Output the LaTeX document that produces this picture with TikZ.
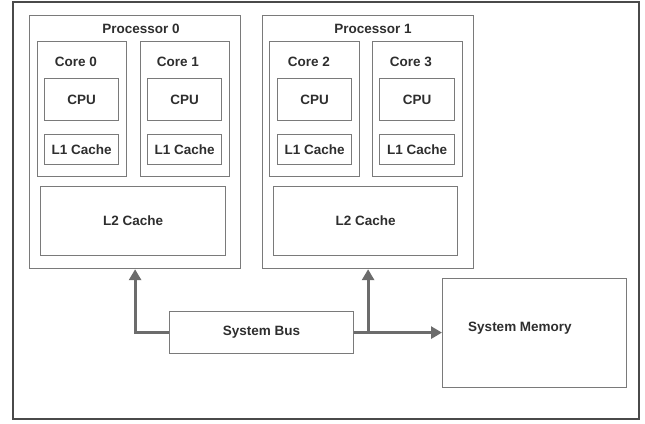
\documentclass[tikz,border=0pt]{standalone}
\usepackage{fontspec}
\setmainfont{Liberation Sans}
\usetikzlibrary{arrows.meta}
\definecolor{boxgray}{HTML}{7A7A7A}
\definecolor{framegray}{HTML}{4A4A4A}
\definecolor{textgray}{HTML}{2E2E2E}
\definecolor{busgray}{HTML}{6C6C6C}
\tikzset{
  unit/.style={draw=boxgray,line width=1.2pt,inner sep=0pt,anchor=north west},
  lbl/.style={font=\fontsize{13.5}{15}\selectfont\bfseries,text=textgray,inner sep=0pt},
  busline/.style={draw=busgray,line width=3pt,-{Triangle[length=11pt,width=12pt]}}
}

\begin{document}
\begin{tikzpicture}[x=1pt,y=-1pt]
\path[use as bounding box] (0,0) rectangle (645,423);
\draw[framegray,line width=1.6pt] (13,2) rectangle (639,419);
% processor 0
\node[unit,minimum width=211,minimum height=253] (proc0) at (29,15) {};
\node[lbl] (proc0title) at (141,29) {Processor 0};
\node[unit,minimum width=89,minimum height=135] (core0) at (37,41) {};
\node[lbl] (core0title) at (76,62) {Core 0};
\node[unit,lbl,minimum width=74,minimum height=42] (cpu0) at (44,78) {CPU};
\node[unit,lbl,minimum width=74,minimum height=30] (lone0) at (44,134) {L1 Cache};
\node[unit,minimum width=89,minimum height=135] (core1) at (140,41) {};
\node[lbl] (core1title) at (178,62) {Core 1};
\node[unit,lbl,minimum width=74,minimum height=42] (cpu1) at (147,78) {CPU};
\node[unit,lbl,minimum width=74,minimum height=30] (lone1) at (147,134) {L1 Cache};
\node[unit,lbl,minimum width=185,minimum height=69] (ltwo0) at (40,186) {L2 Cache};
% processor 1
\node[unit,minimum width=211,minimum height=253] (proc1) at (262,15) {};
\node[lbl] (proc1title) at (373,29) {Processor 1};
\node[unit,minimum width=90,minimum height=135] (core2) at (269,41) {};
\node[lbl] (core2title) at (309,62) {Core 2};
\node[unit,lbl,minimum width=74,minimum height=42] (cpu2) at (277,78) {CPU};
\node[unit,lbl,minimum width=74,minimum height=30] (lone2) at (277,134) {L1 Cache};
\node[unit,minimum width=90,minimum height=135] (core3) at (372,41) {};
\node[lbl] (core3title) at (411,62) {Core 3};
\node[unit,lbl,minimum width=75,minimum height=42] (cpu3) at (379,78) {CPU};
\node[unit,lbl,minimum width=75,minimum height=30] (lone3) at (379,134) {L1 Cache};
\node[unit,lbl,minimum width=184,minimum height=69] (ltwo1) at (273,186) {L2 Cache};
% bus and memory
\node[unit,lbl,minimum width=184,minimum height=42] (bus) at (169,311) {System Bus};
\node[unit,minimum width=184,minimum height=109] (mem) at (442,278) {};
\node[lbl] (memtitle) at (520,328) {System Memory};
\draw[busline] (bus.west) -| (proc0.south);
\draw[busline] (bus.east -| proc1.south) -- (proc1.south);
\draw[busline] (bus.east) -- (bus.east -| mem.west);
\end{tikzpicture}
\end{document}
